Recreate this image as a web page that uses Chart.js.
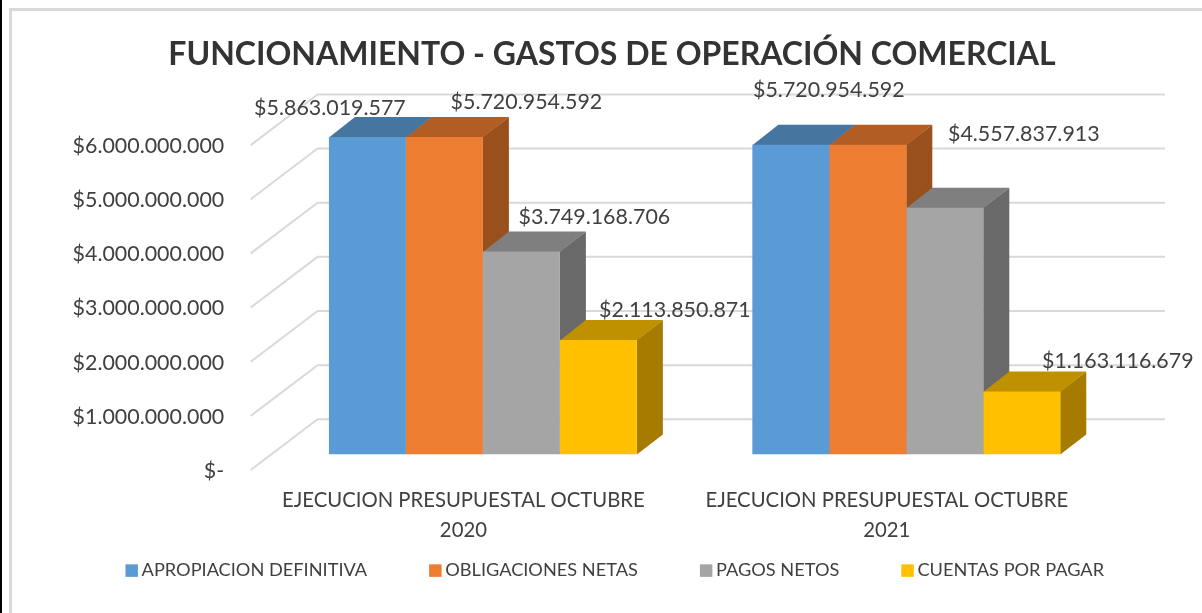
<!DOCTYPE html>
<html><head><meta charset="utf-8">
<style>
html,body{margin:0;padding:0;background:#fff;width:1202px;height:613px;overflow:hidden}
#wrap{position:relative;width:1202px;height:613px}
#strip{position:absolute;left:0;top:0;width:2px;height:613px;background:#000}
#fl{position:absolute;left:9px;top:8px;width:3px;height:605px;background:#d9d9d9}
#ft{position:absolute;left:9px;top:8px;width:1193px;height:3px;background:#d9d9d9}
canvas{position:absolute;left:0;top:0}
</style></head><body>
<div id="wrap"><div id="strip"></div><div id="fl"></div><div id="ft"></div>
<canvas id="c" width="1202" height="613"></canvas></div>
<script src="https://cdn.jsdelivr.net/npm/chart.js@4"></script>
<script>
const chartTitle = 'FUNCIONAMIENTO - GASTOS DE OPERACIÓN COMERCIAL';
const categories = [['EJECUCION PRESUPUESTAL OCTUBRE','2020'],['EJECUCION PRESUPUESTAL OCTUBRE','2021']];
const seriesNames = ['APROPIACION DEFINITIVA','OBLIGACIONES NETAS','PAGOS NETOS','CUENTAS POR PAGAR'];
const apropiacion = [5863019577, 5720954592];
const obligaciones = [5863019577, 5720954592];
const pagos = [3749168706, 4557837913];
const cuentas = [2113850871, 1163116679];
const apropiacionLabels = ['$5.863.019.577','$5.720.954.592'];
const obligacionesLabels = ['$5.720.954.592',null];
const pagosLabels = ['$3.749.168.706','$4.557.837.913'];
const cuentasLabels = ['$2.113.850.871','$1.163.116.679'];
const yTickLabels = ['$-','$1.000.000.000','$2.000.000.000','$3.000.000.000','$4.000.000.000','$5.000.000.000','$6.000.000.000'];

const frontColors = ['#5B9BD5','#ED7D31','#A5A5A5','#FFC000'];
const topColors = ['#4675A0','#B15D24','#7F7F7F','#BF9000'];
const sideColors = ['#3F6C94','#9A501D','#696969','#A67C00'];
const valueArrays = [apropiacion,obligaciones,pagos,cuentas];
const labelArrays = [apropiacionLabels,obligacionesLabels,pagosLabels,cuentasLabels];
// label placement relative to the bar's top centre: [series][category] = [dx,dy]
const labelShift = [[[-37.5,-29],[38,-55]],[[82,-35],[0,0]],[[73,-34.7],[79,-74]],[[76.5,-30],[96,-30]]];

const FONT = 'Lato, Carlito, sans-serif';
const TXT = '#404040';
const DX = 26, DY = 20;          // bar depth
const WALL_DY = 35.2, FLOOR_DY = 15.5, WALL_LEFT = 317.6, WALL_RIGHT = 1165, FLOOR_LEFT = 250.7;

const poly = (ctx, pts, fill) => { ctx.fillStyle = fill; ctx.beginPath(); pts.forEach((p,i)=> i?ctx.lineTo(p[0],p[1]):ctx.moveTo(p[0],p[1])); ctx.closePath(); ctx.fill(); };
const unclip = s => { s._computeLabelArea = () => undefined; };

const scene = {
  id:'scene',
  beforeInit(chart){
    const lg = chart.legend, fit = lg.fit;
    lg.fit = function(){ this.maxWidth = 2000; fit.call(this); this.height = 119; };
  },
  afterLayout(chart){
    chart.legend.left = 33; chart.legend.right = 1202;
  },
  beforeDatasetsDraw(chart){
    const ctx = chart.ctx, y = chart.scales.y;
    ctx.save();
    ctx.strokeStyle = '#D9D9D9'; ctx.lineWidth = 2;
    y.ticks.forEach(t=>{
      const p = y.getPixelForValue(t.value);
      ctx.beginPath();
      ctx.moveTo(FLOOR_LEFT, p + FLOOR_DY);
      ctx.lineTo(WALL_LEFT, p - WALL_DY);
      ctx.lineTo(WALL_RIGHT, p - WALL_DY);
      ctx.stroke();
    });
    categories.forEach((_,ci)=>{
      chart.data.datasets.forEach((_d,di)=>{
        const b = chart.getDatasetMeta(di).data[ci];
        const l = b.x - b.width/2, r = b.x + b.width/2, t = b.y, bot = b.base;
        poly(ctx, [[r,t],[r+DX,t-DY],[r+DX,bot-DY],[r,bot]], sideColors[di]);
        poly(ctx, [[l,t+0.5],[r,t+0.5],[r+DX,t-DY],[l+DX,t-DY]], topColors[di]);
      });
    });
    ctx.restore();
  },
  afterDatasetsDraw(chart){
    const ctx = chart.ctx;
    ctx.save();
    ctx.font = '21.4px '+FONT; ctx.fillStyle = TXT; ctx.textAlign='center'; ctx.textBaseline='middle';
    labelArrays.forEach((arr,di)=>arr.forEach((txt,ci)=>{
      if(!txt) return;
      const b = chart.getDatasetMeta(di).data[ci];
      ctx.fillText(txt, b.x + labelShift[di][ci][0], b.y + labelShift[di][ci][1]);
    }));
    ctx.restore();
  }
};

new Chart(document.getElementById('c'),{
  type:'bar',
  data:{labels:categories,datasets:seriesNames.map((n,i)=>({label:n,data:valueArrays[i],backgroundColor:frontColors[i],borderWidth:0,categoryPercentage:0.7273,barPercentage:1}))},
  plugins:[scene],
  options:{
    responsive:false,animation:false,
    layout:{padding:{left:106,right:84,top:0,bottom:0}},
    plugins:{
      tooltip:{enabled:false},
      title:{display:true,text:chartTitle,color:'#333333',font:{family:FONT,size:32,weight:'bold',lineHeight:1.2},padding:{top:35.8,bottom:55.4}},
      legend:{position:'bottom',labels:{
        color:TXT,font:{family:FONT,size:18.2},boxWidth:1.5,boxHeight:1.5,padding:67.5,
        generateLabels(chart){return seriesNames.map((n,i)=>({text:n,fillStyle:frontColors[i],strokeStyle:frontColors[i],lineWidth:11,fontColor:TXT,datasetIndex:i}));}
      }}
    },
    scales:{
      x:{grid:{display:false,drawTicks:false},border:{display:false},
        afterFit(s){s.height=39.5;unclip(s);},
        ticks:{color:TXT,font:{family:FONT,size:20.3,lineHeight:1.48},padding:30.5,labelOffset:-19.5,maxRotation:0,minRotation:0}},
      y:{min:0,max:6000000000,grid:{display:false,drawTicks:false},border:{display:false},
        afterFit(s){s.width=165.2;unclip(s);},
        ticks:{stepSize:1000000000,color:TXT,font:{family:FONT,size:21.4},padding:47,labelOffset:16.5,callback:(v,i)=>yTickLabels[i]}}
    }
  }
});
</script></body></html>
